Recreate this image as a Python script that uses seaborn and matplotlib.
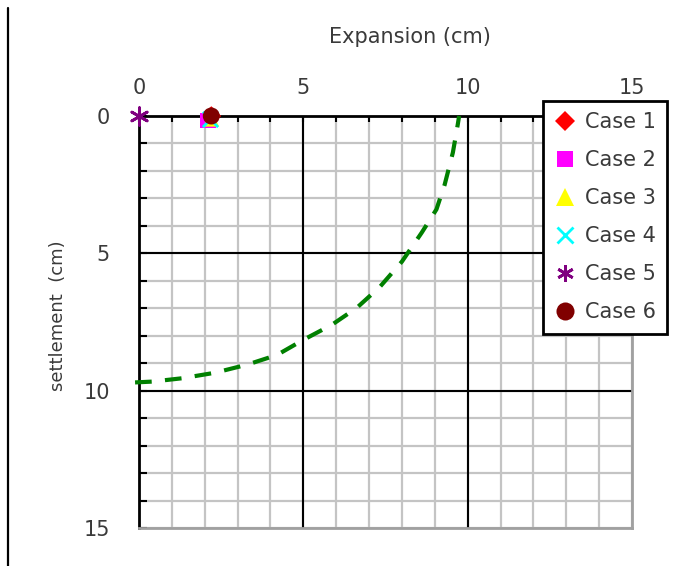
import matplotlib
matplotlib.use("Agg")
import matplotlib.pyplot as plt
from matplotlib.lines import Line2D
from matplotlib.ticker import MultipleLocator
import seaborn as sns
import pandas as pd

sns.set_style("white")
plt.rcParams["font.family"] = ["DejaVu Sans"]

# Measured points for each case (expansion, settlement) in cm
case_labels = ["Case 1", "Case 2", "Case 3", "Case 4", "Case 5", "Case 6"]
case_expansion = [2.2, 2.1, 2.2, 2.15, 0.0, 2.2]
case_settlement = [0.0, 0.15, 0.1, 0.1, 0.0, 0.0]
case_colors = ["#ff0000", "#ff00ff", "#ffff00", "#00ffff", "#800080", "#800000"]
case_markers = ["D", "s", "^", "x", (6, 2, 0), "o"]
case_sizes = [100, 120, 130, 120, 160, 150]

# Reference envelope curve (expansion vs settlement)
curve_expansion = [-0.12, 0.4, 1.3, 2.3, 3.3, 4.2, 5.0, 5.87, 6.63, 7.33,
                   8.0, 8.6, 9.05, 9.3, 9.55, 9.7, 9.74]
curve_settlement = [9.7, 9.67, 9.55, 9.35, 9.05, 8.7, 8.15, 7.6, 6.98, 6.22,
                    5.3, 4.25, 3.4, 2.5, 1.33, 0.3, 0.0]

W, H = 684, 566
fig = plt.figure(figsize=(W / 100, H / 100), dpi=100)
ax = fig.add_axes([139 / W, 1 - 528 / H, (632 - 139) / W, (528 - 116) / H])

ax.set_xlim(0, 15)
ax.set_ylim(15, 0)
ax.xaxis.set_major_locator(MultipleLocator(5))
ax.yaxis.set_major_locator(MultipleLocator(5))
ax.xaxis.set_minor_locator(MultipleLocator(1))
ax.yaxis.set_minor_locator(MultipleLocator(1))

# light grid at every unit, darker lines at 5 and 10
ax.grid(True, which="both", color="#c4c4c4", lw=1.6, zorder=0)
ax.set_axisbelow(True)
for v in (5, 10):
    ax.axvline(v, color="black", lw=1.5, zorder=1)
    ax.axhline(v, color="black", lw=1.5, zorder=1)

text_color = "#3a3a3a"
ax.xaxis.tick_top()
ax.tick_params(axis="x", which="both", direction="in", length=4, width=1.5,
               color="black", top=True, bottom=False, pad=13,
               labelsize=15, labelcolor=text_color)
ax.tick_params(axis="y", which="both", direction="in", length=5.5, width=1.5,
               color="black", left=True, right=False, pad=21,
               labelsize=15, labelcolor=text_color)

for side in ("top", "left"):
    ax.spines[side].set_color("black")
    ax.spines[side].set_linewidth(2)
for side in ("right", "bottom"):
    ax.spines[side].set_color("#a0a0a0")
    ax.spines[side].set_linewidth(2)

curve_df = pd.DataFrame({"x": curve_expansion, "y": curve_settlement})
sns.lineplot(data=curve_df, x="x", y="y", sort=False, estimator=None,
             color="#008000", lw=3.0, ax=ax, zorder=3, clip_on=False)
ax.lines[-1].set_linestyle((0, (4.0, 3.2)))
ax.lines[-1].set_dash_capstyle("butt")

for lab, xv, yv, col, mk, sz in zip(case_labels, case_expansion, case_settlement,
                                    case_colors, case_markers, case_sizes):
    line_art = mk == "x" or isinstance(mk, tuple)
    sns.scatterplot(x=[xv], y=[yv], marker=mk, s=sz, color=col, ax=ax,
                    label=lab, clip_on=False, zorder=5,
                    linewidth=2 if line_art else 0,
                    edgecolor=col if line_art else "none")

ax.set_xlabel("")
ax.set_ylabel("")

handles = [Line2D([], [], ls="none", marker=mk, color=col, markersize=ms,
                  markeredgewidth=2 if (mk == "x" or isinstance(mk, tuple)) else 0)
           for mk, col, ms in zip(case_markers, case_colors, [10, 12, 13, 11, 12, 13])]
leg = ax.legend(handles, case_labels, loc="upper left",
                bbox_to_anchor=(543 / W, 1 - 101 / H), bbox_transform=fig.transFigure,
                frameon=True, fancybox=False, framealpha=1, edgecolor="black",
                fontsize=15, handlelength=1.0, handletextpad=0.45,
                labelspacing=0.86, borderpad=0.55, borderaxespad=0)
leg.get_frame().set_linewidth(2)
for t in leg.get_texts():
    t.set_color(text_color)
leg.set_zorder(10)

fig.text(410 / W, 1 - 37 / H, "Expansion (cm)", ha="center", va="center",
         fontsize=15, color=text_color)
fig.text(58 / W, 1 - 316 / H, "settlement  (cm)", ha="center", va="center",
         rotation=90, fontsize=13, color=text_color)

fig.add_artist(Line2D([8 / W, 8 / W], [1 - 8 / H, 0], transform=fig.transFigure,
                      color="black", lw=1.6))

fig.savefig("out.png", dpi=100)
